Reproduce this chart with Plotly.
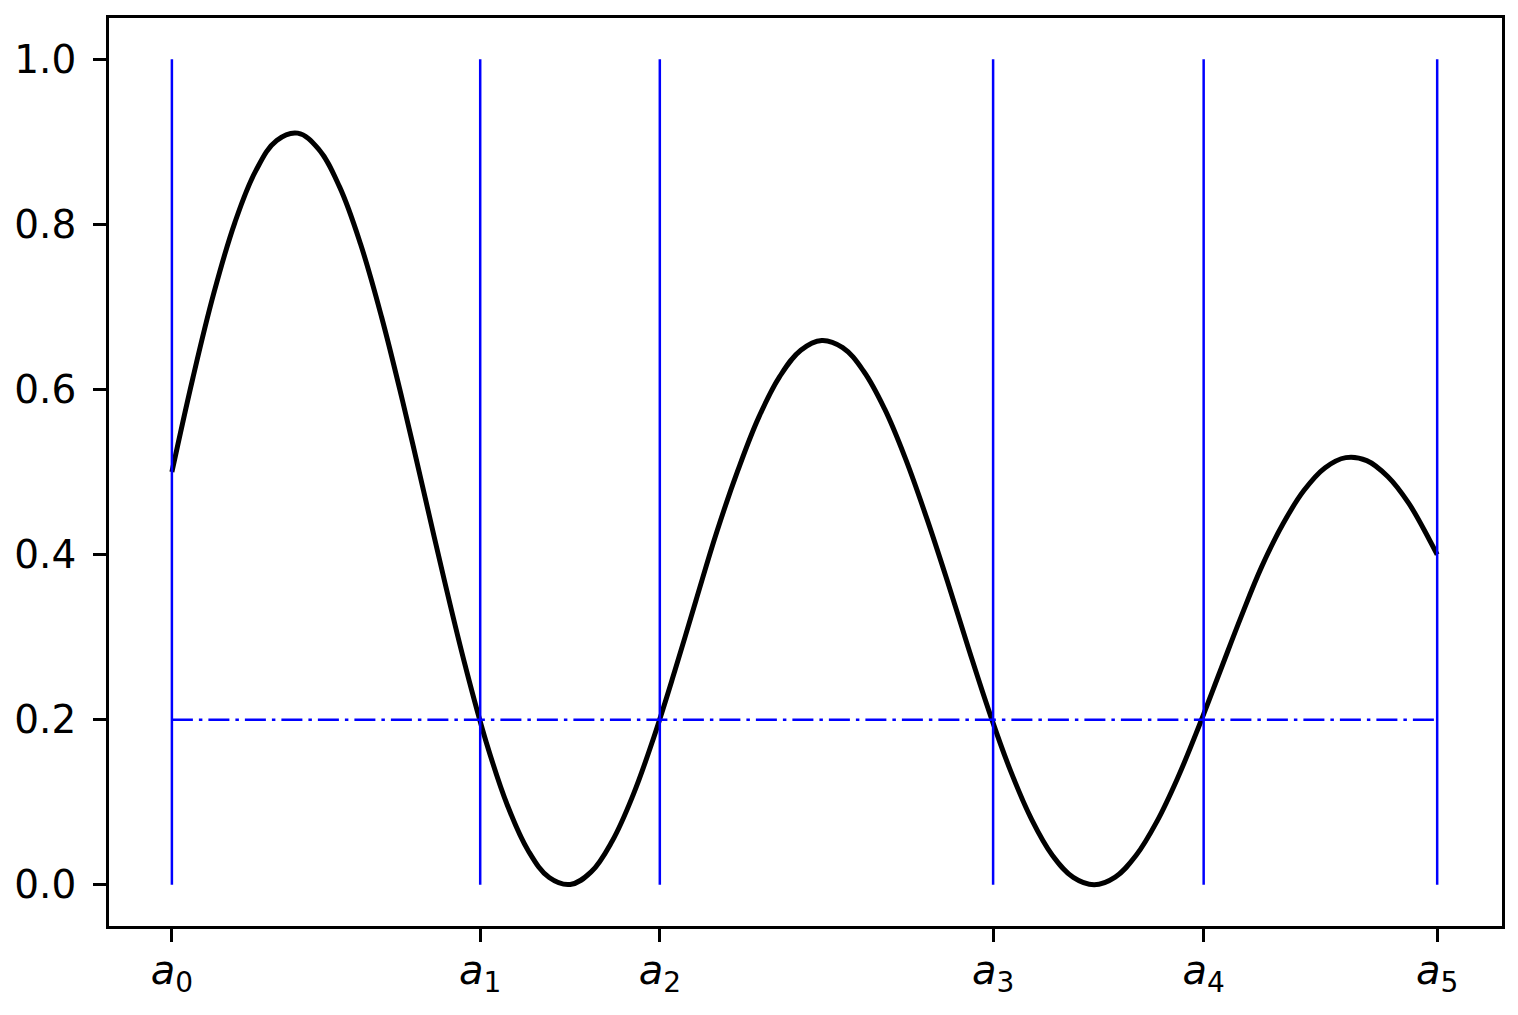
import plotly.graph_objects as go

# Curve samples (x in radians of the oscillation, a0 = 0)
curve_x = [0.00, 0.25, 0.50, 0.75, 1.00, 1.25, 1.50, 1.75, 2.00, 2.25,
           2.50, 2.75, 3.00, 3.25, 3.50, 3.75, 4.00, 4.25, 4.50, 4.75,
           5.00, 5.25, 5.50, 5.75, 6.00, 6.25, 6.50, 6.75, 7.00, 7.25,
           7.50, 7.75, 8.00, 8.25, 8.50, 8.75, 9.00, 9.25, 9.50, 9.75,
           10.00, 10.25, 10.50, 10.75, 11.00, 11.25, 11.50, 11.75, 12.00, 12.25,
           12.50, 12.75, 13.00, 13.25, 13.50, 13.75, 14.00, 14.25, 14.50, 14.75,
           15.00, 15.09]
curve_y = [0.5000, 0.6138, 0.7166, 0.8019, 0.8648, 0.9017, 0.9105, 0.8912, 0.8454, 0.7762,
           0.6881, 0.5866, 0.4779, 0.3685, 0.2647, 0.1724, 0.0966, 0.0412, 0.0087, 0.0003,
           0.0155, 0.0527, 0.1086, 0.1793, 0.2597, 0.3444, 0.4279, 0.5019, 0.5665, 0.6158,
           0.6475, 0.6593, 0.6506, 0.6221, 0.5764, 0.5159, 0.4447, 0.3673, 0.2865, 0.2088,
           0.1385, 0.0798, 0.0358, 0.0089, 0.0000, 0.0093, 0.0357, 0.0771, 0.1305, 0.1923,
           0.2583, 0.3242, 0.3860, 0.4370, 0.4775, 0.5049, 0.5174, 0.5138, 0.4945, 0.4622,
           0.4174, 0.3999]

# Partition points a_k and the level line
a_points = [0.000, 3.677, 5.819, 9.794, 12.305, 15.090]
a_labels = ["<i>a</i><sub>0</sub>", "<i>a</i><sub>1</sub>", "<i>a</i><sub>2</sub>",
            "<i>a</i><sub>3</sub>", "<i>a</i><sub>4</sub>", "<i>a</i><sub>5</sub>"]
level = 0.2
vline_bottom = 0.0
vline_top = 1.0
y_ticks = [0.0, 0.2, 0.4, 0.6, 0.8, 1.0]

fig = go.Figure()

fig.add_trace(go.Scatter(
    x=curve_x, y=curve_y, mode="lines",
    line=dict(color="black", width=5, shape="spline", smoothing=1.1),
    showlegend=False, hoverinfo="skip"))

vx, vy = [], []
for a in a_points:
    vx += [a, a, None]
    vy += [vline_bottom, vline_top, None]
fig.add_trace(go.Scatter(
    x=vx, y=vy, mode="lines",
    line=dict(color="#0000ff", width=2.5),
    showlegend=False, hoverinfo="skip"))

fig.add_trace(go.Scatter(
    x=[a_points[0], a_points[-1]], y=[level, level], mode="lines",
    line=dict(color="#0000ff", width=2.5, dash="21px,6px,3.5px,6px"),
    showlegend=False, hoverinfo="skip"))

axis_common = dict(
    showline=True, linecolor="black", linewidth=2.8, mirror=True,
    ticks="outside", ticklen=13, tickwidth=2.8, tickcolor="black",
    showgrid=False, zeroline=False,
)

fig.update_xaxes(range=[-0.75, 15.863], tickmode="array",
                 tickvals=a_points, ticktext=a_labels,
                 tickfont=dict(family="DejaVu Sans", size=40, color="black"),
                 ticklabelstandoff=-6,
                 **axis_common)
fig.update_yaxes(range=[-0.05, 1.05], tickmode="array",
                 tickvals=y_ticks, ticktext=[f"{v:.1f}" for v in y_ticks],
                 tickfont=dict(family="DejaVu Sans", size=39, color="black"),
                 ticklabelstandoff=9,
                 **axis_common)

fig.update_layout(
    width=1502, height=999,
    margin=dict(l=101, r=5, t=10, b=81),
    paper_bgcolor="white", plot_bgcolor="white",
    font=dict(family="DejaVu Sans", color="black"),
)

fig.write_html("out.html")
